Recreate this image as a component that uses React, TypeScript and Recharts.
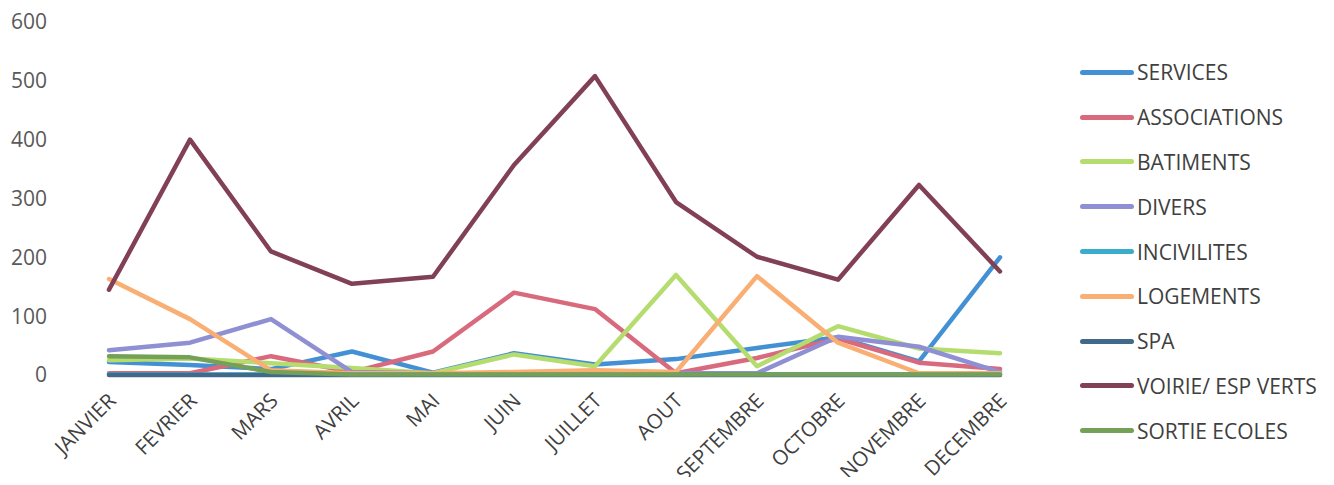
import React from "react";
import { LineChart, Line, XAxis, YAxis } from "recharts";

const months = ["JANVIER", "FEVRIER", "MARS", "AVRIL", "MAI", "JUIN", "JUILLET", "AOUT", "SEPTEMBRE", "OCTOBRE", "NOVEMBRE", "DECEMBRE"];
const services = [22, 17, 10, 40, 4, 37, 18, 27, 46, 64, 23, 200];
const associations = [3, 3, 32, 5, 40, 140, 112, 3, 29, 62, 21, 10];
const batiments = [25, 28, 20, 12, 3, 35, 15, 170, 15, 83, 45, 37];
const divers = [42, 55, 95, 5, 3, 3, 3, 3, 3, 65, 48, 5];
const incivilites = [1, 1, 1, 1, 1, 1, 1, 1, 1, 1, 1, 1];
const logements = [163, 95, 8, 3, 3, 5, 8, 5, 168, 55, 3, 3];
const spa = [0, 0, 0, 0, 0, 0, 0, 0, 0, 0, 0, 0];
const voirie = [145, 400, 210, 155, 167, 357, 508, 294, 201, 162, 323, 176];
const sortieEcoles = [32, 30, 5, 1, 1, 1, 1, 1, 1, 1, 1, 1];
const yTicks = [0, 100, 200, 300, 400, 500, 600];

const seriesNames = ["SERVICES", "ASSOCIATIONS", "BATIMENTS", "DIVERS", "INCIVILITES", "LOGEMENTS", "SPA", "VOIRIE/ ESP VERTS", "SORTIE ECOLES"];
const seriesValues = [services, associations, batiments, divers, incivilites, logements, spa, voirie, sortieEcoles];
const seriesColors = ["#4391d4", "#d9697c", "#b5dc6f", "#8f8fd3", "#3aaccc", "#f9ae73", "#41698a", "#814055", "#74a058"];

const data = months.map((m, i) => {
  const row: Record<string, any> = { month: m };
  seriesNames.forEach((n, j) => {
    row[n] = seriesValues[j][i];
  });
  return row;
});

const FONT = "'Open Sans', sans-serif";

const XTick = (props: any) => {
  const { x, y, payload } = props;
  return (
    <g transform={`translate(${x + 3},${y + 14})`}>
      <text transform="rotate(-45)" textAnchor="end" dy="0.35em" fontSize={20.5} fill="#404040" fontFamily={FONT}>
        {payload.value}
      </text>
    </g>
  );
};

const LegendBox = () => (
  <div style={{ position: "absolute", left: 1072, top: 42, fontFamily: FONT }}>
    {seriesNames.map((n, i) => (
      <div key={n} style={{ height: 44.8, display: "flex", alignItems: "center" }}>
        <div style={{ width: 54, height: 5, borderRadius: 3, background: seriesColors[i] }} />
        <span style={{ marginLeft: 3, fontSize: 21, color: "#404040", whiteSpace: "nowrap" }}>{n}</span>
      </div>
    ))}
  </div>
);

export default function App() {
  return (
    <div style={{ width: 1318, height: 469, position: "relative" }}>
      <LineChart width={1318} height={469} data={data} margin={{ top: 14, right: 285, bottom: 0, left: 0 }}>
        <XAxis
          dataKey="month"
          axisLine={false}
          tickLine={false}
          interval={0}
          padding={{ left: 41, right: 41 }}
          height={102}
          tick={<XTick />}
        />
        <YAxis
          domain={[0, 600]}
          ticks={yTicks}
          axisLine={false}
          tickLine={false}
          width={60}
          tickMargin={15}
          tick={{ fontSize: 21, fill: "#595959", fontFamily: FONT }}
        />
        {seriesNames.map((n, i) => (
          <Line
            key={n}
            type="linear"
            dataKey={n}
            stroke={seriesColors[i]}
            strokeWidth={4.5}
            strokeLinejoin="round"
            strokeLinecap="round"
            dot={false}
            activeDot={false}
            isAnimationActive={false}
          />
        ))}
      </LineChart>
      <LegendBox />
    </div>
  );
}
